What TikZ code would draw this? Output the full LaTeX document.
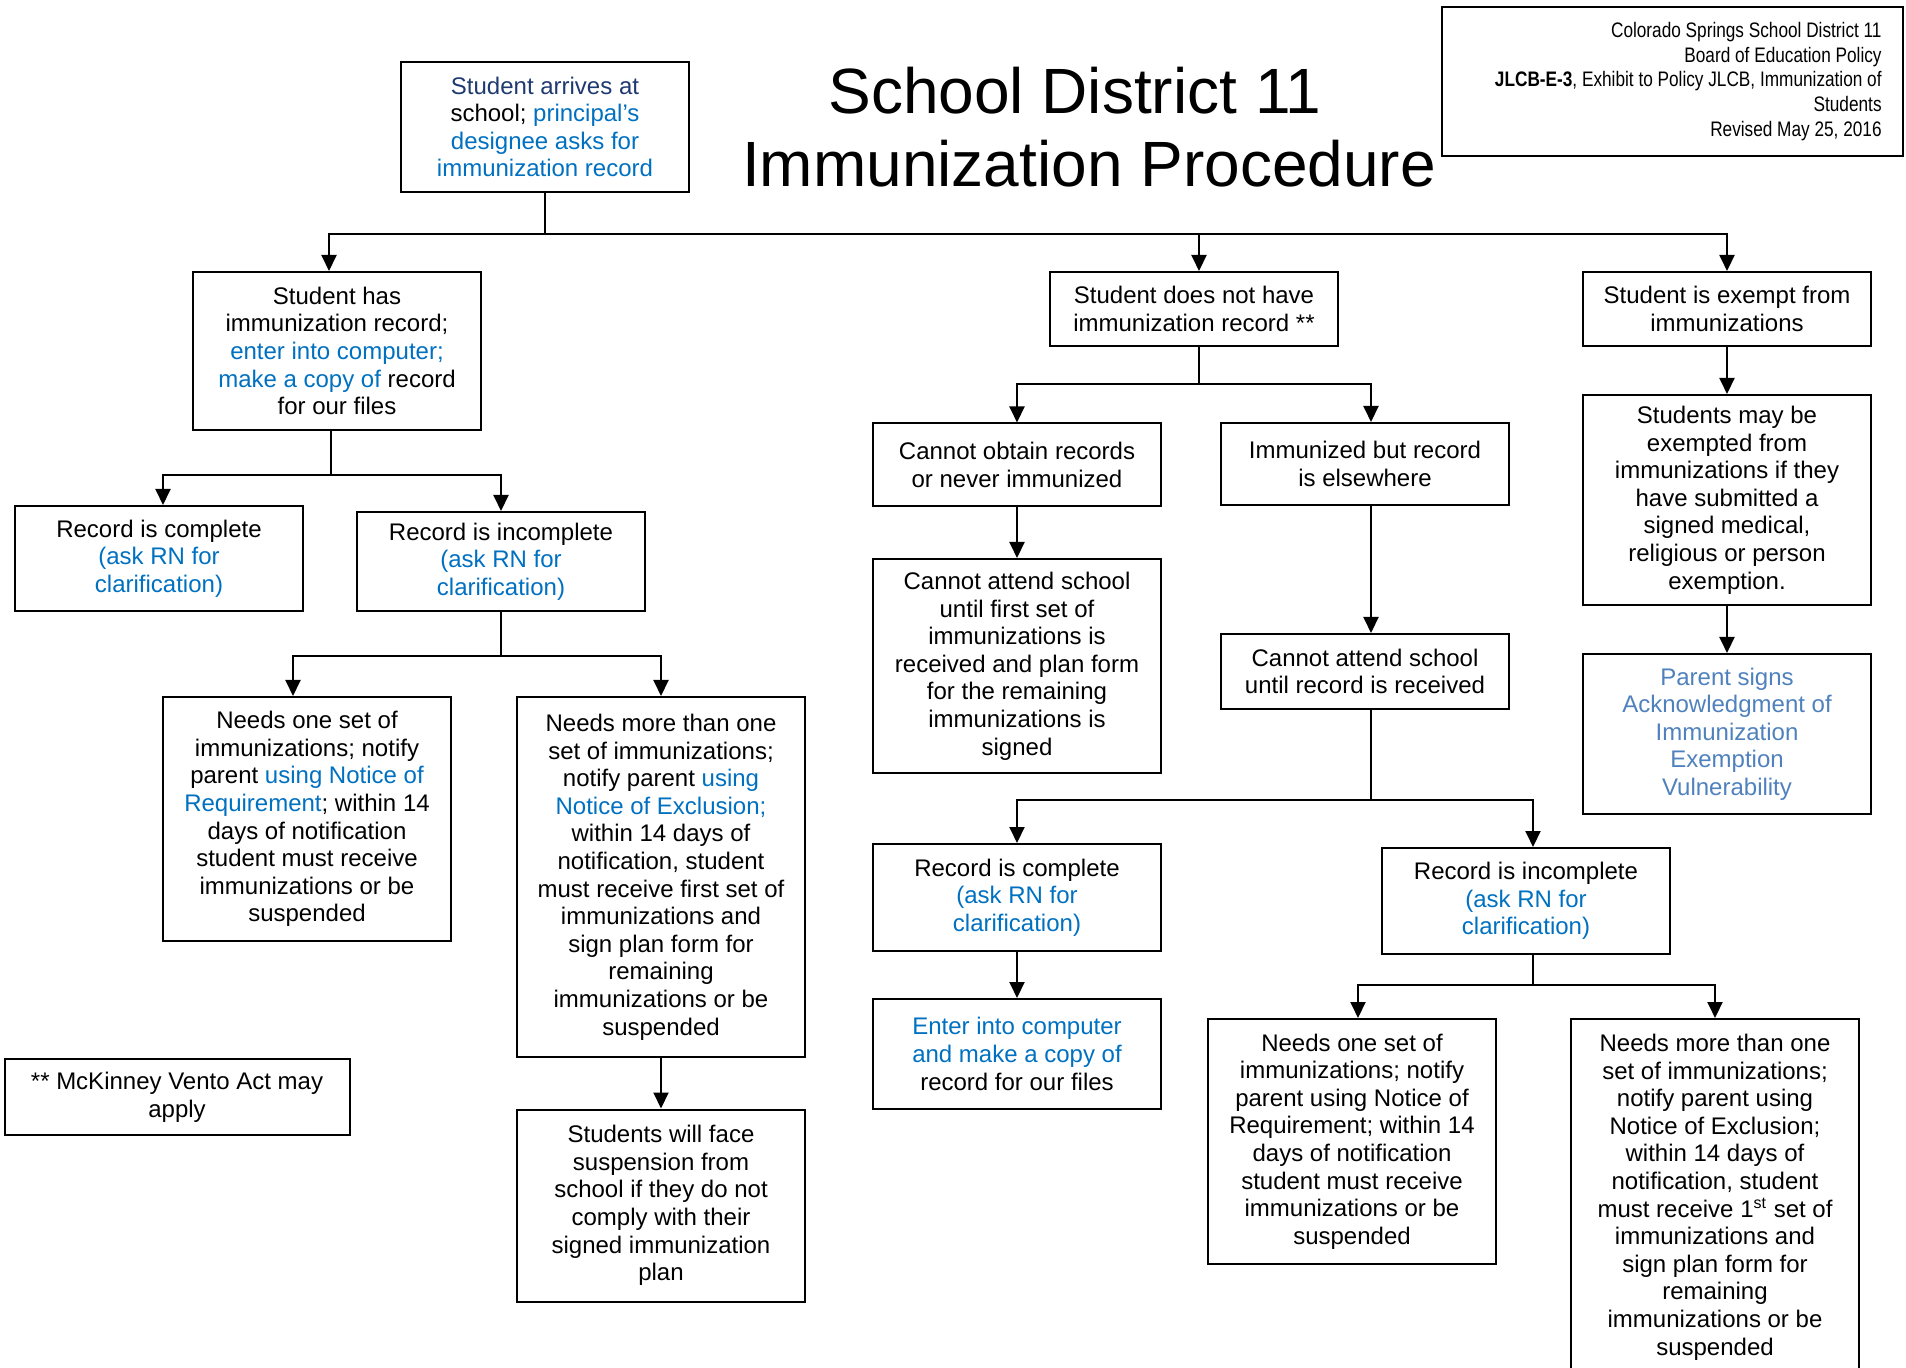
\documentclass[tikz,border=0pt]{standalone}
\usepackage{fontspec}
\setmainfont{Liberation Sans}
\newfontfamily\narrowfont[FakeStretch=0.82]{Liberation Sans}
\usetikzlibrary{arrows.meta}
\definecolor{navy}{HTML}{1F3A70}
\definecolor{dblue}{HTML}{0070C0}
\definecolor{lblue}{HTML}{4F81BD}
\newcommand\bl[1]{\textcolor{dblue}{#1}}
\newcommand\myBody{\fontsize{12}{13.8}\selectfont}
\begin{document}
\begin{tikzpicture}[x=0.5pt,y=-0.5pt,
  bx/.style={draw, line width=1pt, minimum width=144pt, inner sep=0pt, align=center, font=\myBody},
  ht/.style={minimum height=#1*0.5pt},
  wd/.style={minimum width=#1*0.5pt},
  ln/.style={line width=1pt},
  arr/.style={line width=1pt, -{Triangle[length=8pt,width=7.5pt]}},
]
\useasboundingbox (0,0) rectangle (1906,1368);
\clip (0,0) rectangle (1906,1368);

% title and info
\node[font=\fontsize{32}{36}\selectfont, anchor=base, inner sep=0pt] (title1) at (1075,113.5) {School District 11};
\node[font=\fontsize{32}{36}\selectfont, anchor=base, inner sep=0pt] (title2) at (1089,186.5) {Immunization Procedure};
\node[draw, line width=1pt, wd=461, ht=149, inner sep=0pt] (info) at (1672.5,81.5) {};
\node[anchor=north east, inner sep=0pt, align=right, font=\narrowfont\fontsize{10.5}{12.3}\selectfont] (infotext) at (1882,22)
  {Colorado Springs School District 11\\Board of Education Policy\\\textbf{JLCB-E-3}, Exhibit to Policy JLCB, Immunization of\\Students\\Revised May 25, 2016};

% boxes
\node[bx, ht=130] (start) at (545,127) {\textcolor{navy}{Student arrives at}\\school; \bl{principal’s}\\\bl{designee asks for}\\\bl{immunization record}};

\node[bx, ht=158] (hasrec) at (337,351) {Student has\\immunization record;\\\bl{enter into computer;}\\\bl{make a copy of} record\\for our files};
\node[bx, ht=74] (nohave) at (1194,309) {Student does not have\\immunization record **};
\node[bx, ht=74] (exempt) at (1727,309) {Student is exempt from\\immunizations};

\node[bx, ht=105] (reccomp1) at (159,558.5) {Record is complete\\\bl{(ask RN for}\\\bl{clarification)}};
\node[bx, ht=99] (recinc1) at (501,561.5) {Record is incomplete\\\bl{(ask RN for}\\\bl{clarification)}};

\node[bx, ht=244] (needone1) at (307,819) {Needs one set of\\immunizations; notify\\parent \bl{using Notice of}\\\bl{Requirement}; within 14\\days of notification\\student must receive\\immunizations or be\\suspended};
\node[bx, ht=360] (needmore1) at (661,877) {Needs more than one\\set of immunizations;\\notify parent \bl{using}\\\bl{Notice of Exclusion;}\\within 14 days of\\notification, student\\must receive first set of\\immunizations and\\sign plan form for\\remaining\\immunizations or be\\suspended};
\node[bx, ht=192] (face) at (661,1205.5) {Students will face\\suspension from\\school if they do not\\comply with their\\signed immunization\\plan};
\node[bx, wd=345, ht=76] (mckinney) at (177,1097) {** McKinney Vento Act may\\apply};

\node[bx, ht=83] (cannotobtain) at (1017,465) {Cannot obtain records\\or never immunized};
\node[bx, ht=82] (immunized) at (1365,464) {Immunized but record\\is elsewhere};
\node[bx, ht=214] (attendfirst) at (1017,666) {Cannot attend school\\until first set of\\immunizations is\\received and plan form\\for the remaining\\immunizations is\\signed};
\node[bx, ht=75] (attendrec) at (1365,671.5) {Cannot attend school\\until record is received};
\node[bx, ht=107] (reccomp2) at (1017,897.5) {Record is complete\\\bl{(ask RN for}\\\bl{clarification)}};
\node[bx, ht=110] (enter) at (1017,1054) {\bl{Enter into computer}\\\bl{and make a copy of}\\record for our files};
\node[bx, ht=106] (recinc2) at (1526,901) {Record is incomplete\\\bl{(ask RN for}\\\bl{clarification)}};
\node[bx, ht=245] (needone2) at (1352,1141.5) {Needs one set of\\immunizations; notify\\parent using Notice of\\Requirement; within 14\\days of notification\\student must receive\\immunizations or be\\suspended};
\node[bx, ht=356] (needmore2) at (1715,1197) {Needs more than one\\set of immunizations;\\notify parent using\\Notice of Exclusion;\\within 14 days of\\notification, student\\must receive 1\textsuperscript{st} set of\\immunizations and\\sign plan form for\\remaining\\immunizations or be\\suspended};

\node[bx, ht=210] (mayexempt) at (1727,500) {Students may be\\exempted from\\immunizations if they\\have submitted a\\signed medical,\\religious or person\\exemption.};
\node[bx, ht=160, text=lblue] (parent) at (1727,734) {Parent signs\\Acknowledgment of\\Immunization\\Exemption\\Vulnerability};

% connectors
\coordinate (bus1) at (545,234);
\draw[ln] (start.south) -- (bus1);
\draw[arr] (bus1) -| ([xshift=-4pt]hasrec.north);
\draw[arr] (bus1) -| ([xshift=2.5pt]nohave.north);
\draw[arr] (bus1) -| (exempt.north);

\coordinate (bus2) at (331,475);
\draw[ln] ([xshift=-3pt]hasrec.south) -- (bus2);
\draw[arr] (bus2) -| ([xshift=2pt]reccomp1.north);
\draw[arr] (bus2) -| (recinc1.north);

\coordinate (bus3) at (501,656);
\draw[ln] (recinc1.south) -- (bus3);
\draw[arr] (bus3) -| ([xshift=-7pt]needone1.north);
\draw[arr] (bus3) -| (needmore1.north);
\draw[arr] (needmore1.south) -- (face.north);

\coordinate (bus4) at (1199,384);
\draw[ln] ([xshift=2.5pt]nohave.south) -- (bus4);
\draw[arr] (bus4) -| (cannotobtain.north);
\draw[arr] (bus4) -| ([xshift=3pt]immunized.north);
\draw[arr] (cannotobtain.south) -- (attendfirst.north);
\draw[arr] ([xshift=3pt]immunized.south) -- ([xshift=3pt]attendrec.north);

\coordinate (bus5) at (1371,800);
\draw[ln] ([xshift=3pt]attendrec.south) -- (bus5);
\draw[arr] (bus5) -| (reccomp2.north);
\draw[arr] (bus5) -| ([xshift=3.5pt]recinc2.north);
\draw[arr] (reccomp2.south) -- (enter.north);

\coordinate (bus6) at (1533,985);
\draw[ln] ([xshift=3.5pt]recinc2.south) -- (bus6);
\draw[arr] (bus6) -| ([xshift=3pt]needone2.north);
\draw[arr] (bus6) -| (needmore2.north);

\draw[arr] (exempt.south) -- (mayexempt.north);
\draw[arr] (mayexempt.south) -- (parent.north);
\end{tikzpicture}
\end{document}
